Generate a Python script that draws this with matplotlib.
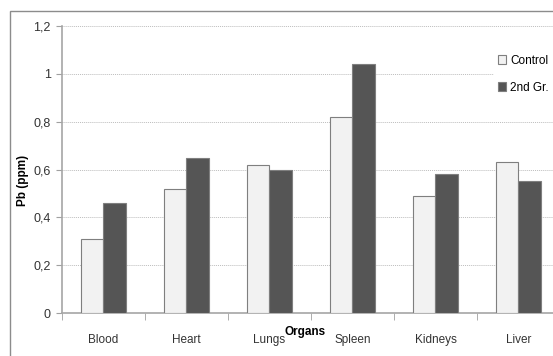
import matplotlib
matplotlib.use("Agg")
import matplotlib.pyplot as plt
from matplotlib.patches import Rectangle
import numpy as np

categories = ["Blood", "Heart", "Lungs", "Spleen", "Kidneys", "Liver"]
control = [0.31, 0.52, 0.62, 0.82, 0.49, 0.63]
second_gr = [0.46, 0.65, 0.60, 1.04, 0.58, 0.55]
yticks = [0, 0.2, 0.4, 0.6, 0.8, 1.0, 1.2]
ytick_labels = ["0", "0,2", "0,4", "0,6", "0,8", "1", "1,2"]

plt.rcParams['font.family'] = ['Liberation Sans', 'DejaVu Sans']

W, H = 553, 356
fig = plt.figure(figsize=(W/100, H/100), dpi=100)
fig.patch.set_facecolor("white")

# chart-area border
fig.patches.append(Rectangle((10/W, -0.1), 1.2, 1 - 11/H + 0.1, transform=fig.transFigure,
                             fill=False, edgecolor="#8c8c8c", linewidth=1.0))

ax = fig.add_axes([62/W, 1 - 313/H, 498/W, 287/H])
x = np.arange(len(categories))
bw = 0.277
ax.bar(x - bw/2, control, bw, color="#f2f2f2", edgecolor="#7f7f7f", linewidth=0.8,
       label="Control", zorder=3)
ax.bar(x + bw/2, second_gr, bw, color="#555555", edgecolor="#7f7f7f", linewidth=0.8,
       label="2nd Gr.", zorder=3)

ax.set_xlim(-0.5, len(categories) - 0.5)
ax.set_ylim(0, 1.2)
ax.set_yticks(yticks)
ax.set_yticklabels(ytick_labels, fontsize=9, color="#333333")
ax.set_xticks(x)
ax.set_xticklabels(categories, fontsize=8.5, color="#333333")
ax.tick_params(axis='x', which='major', length=0, pad=15)
ax.set_xticks(np.arange(-0.5, len(categories), 1.0), minor=True)
ax.tick_params(axis='x', which='minor', length=5, color="#a0a0a0", direction='out')
ax.tick_params(axis='y', length=4, color="#a0a0a0", pad=4)

ax.grid(axis='y', color="#bdbdbd", linestyle=(0, (1, 1)), linewidth=0.7, zorder=0)
ax.set_axisbelow(True)
for s in ["top", "right"]:
    ax.spines[s].set_visible(False)
for s in ["left", "bottom"]:
    ax.spines[s].set_color("#a6a6a6")
    ax.spines[s].set_linewidth(1.2)

fig.text(23/W, 1 - 180/H, "Pb (ppm)", rotation=90, fontsize=8.5, fontweight='bold',
         ha='center', va='center')
fig.text(305/W, 1 - 332/H, "Organs", fontsize=8.5, fontweight='bold', ha='center', va='center')

leg = fig.legend(loc='upper left', bbox_to_anchor=(494/W, 1 - 51/H), frameon=True,
                 fontsize=8.5, handlelength=0.75, handleheight=0.75, handletextpad=0.3,
                 labelspacing=1.3, borderpad=0.3, borderaxespad=0)
leg.get_frame().set_edgecolor("white")
leg.get_frame().set_facecolor("white")
leg.get_frame().set_alpha(1)

fig.savefig("out.png", dpi=100)
